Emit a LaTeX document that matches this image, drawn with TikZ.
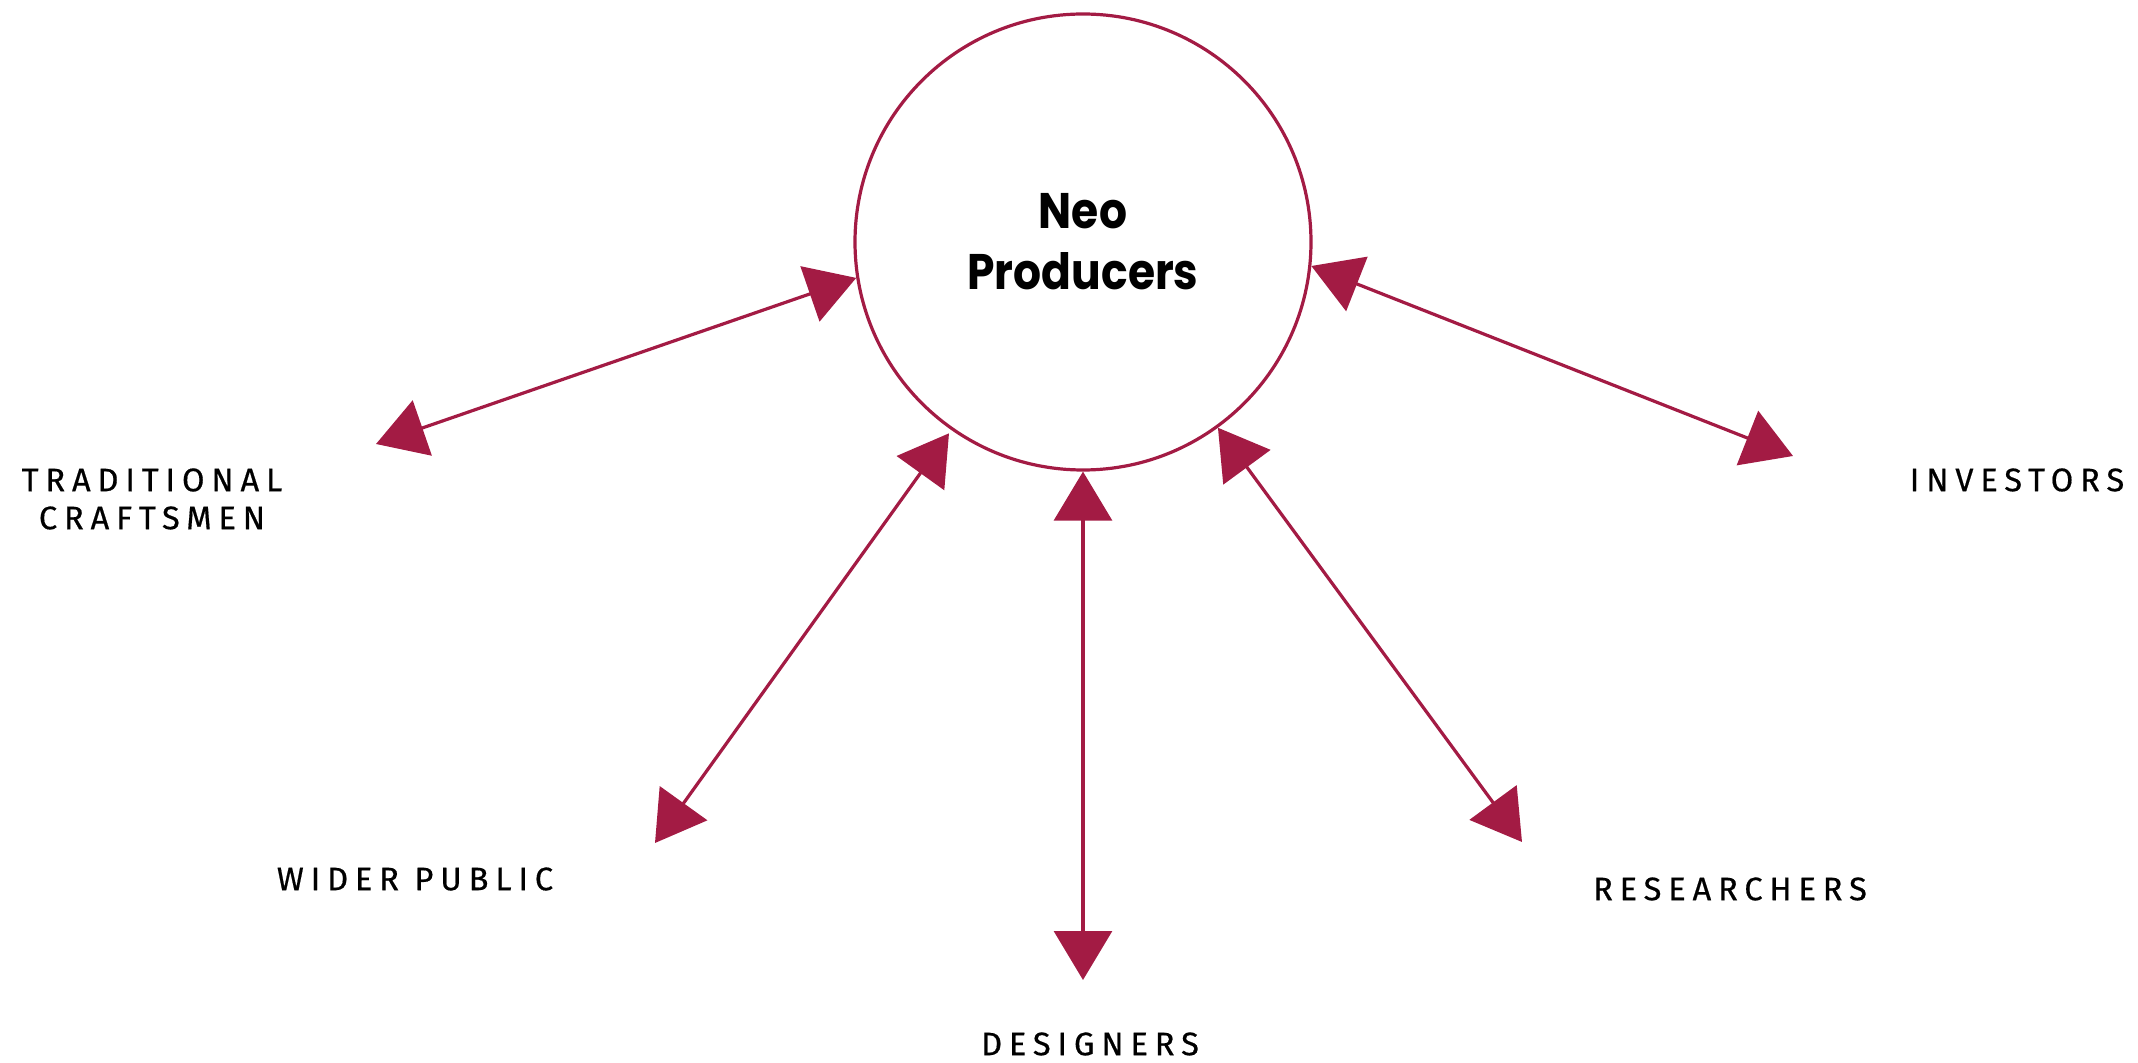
\documentclass[tikz,border=0pt]{standalone}
\usepackage{fontspec}
\usepackage{tikz}
\usetikzlibrary{arrows.meta}
\newfontfamily\labelfont{Fira Sans}[LetterSpace=21, FakeBold=0.5]
\newfontfamily\titlefont{Poppins}[FakeStretch=0.88]
\tikzset{hub/.style = {draw=mcrimson, line width=1.6pt, circle, minimum size=228pt, inner sep=0, align=center, font=\titlefont\bfseries\fontsize{25}{30.5}\selectfont}}
\tikzset{party/.style = {align=center, font=\labelfont\fontsize{16.3}{19}\selectfont}}
\tikzset{link/.style = {mcrimson, line width=1.6pt, <->}}
\definecolor{mcrimson}{RGB}{163, 27, 68}

\begin{document}
\begin{tikzpicture}[x=0.5pt, y=-0.5pt, >={Triangle[length=24.5pt, width=29pt]}]
      \useasboundingbox (0, 0) rectangle (2138, 1063);
      \node [hub] (np) at (1083, 242) {Neo\\Producers};
      \node [party] (tc) at (152, 499) {TRADITIONAL\\CRAFTSMEN};
      \node [party] (wp) at (415, 879) {WIDER PUBLIC};
      \node [party] (ds) at (1090, 1044) {DESIGNERS};
      \node [party] (rs) at (1730, 889) {RESEARCHERS};
      \node [party] (iv) at (2017, 480) {INVESTORS};
      \coordinate (tc-end) at (376, 444);
      \coordinate (wp-end) at (655, 843);
      \coordinate (ds-end) at (1083, 980);
      \coordinate (rs-end) at (1522, 842);
      \coordinate (iv-end) at (1793, 456);
      \draw [link] (tc-end) -- (np.189);
      \draw [link, shorten >=2pt] (wp-end) -- (np.235);
      \draw [link] (ds-end) -- (np.270);
      \draw [link] (rs-end) -- (np.306);
      \draw [link] (iv-end) -- (np.354);
    \end{tikzpicture}
\end{document}
